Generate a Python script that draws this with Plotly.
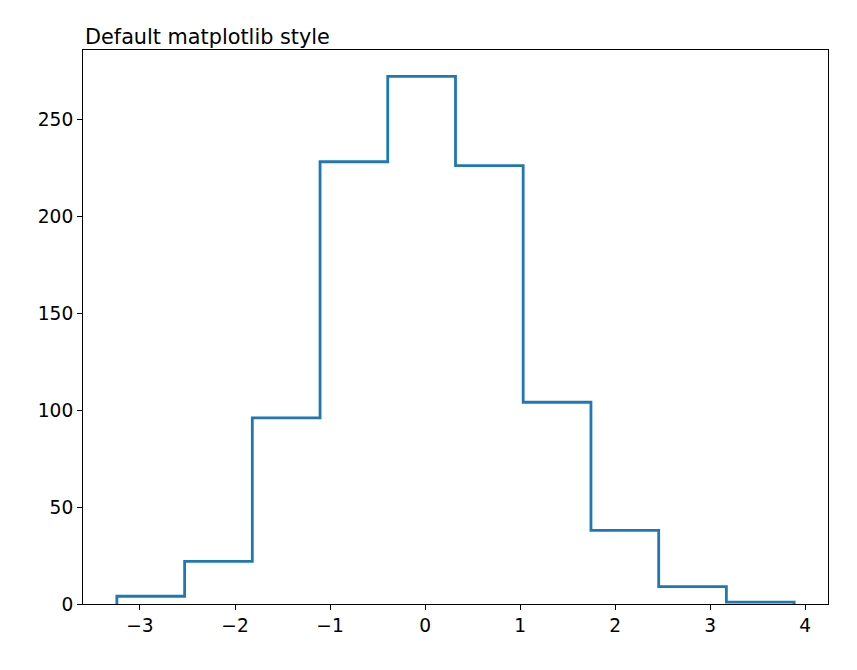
import plotly.graph_objects as go

# Histogram bin edges and counts
bin_edges = [-3.243, -2.530, -1.818, -1.105, -0.393, 0.320,
             1.032, 1.745, 2.458, 3.170, 3.883]
counts = [4, 22, 96, 228, 272, 226, 104, 38, 9, 1]

x_ticks = [-3, -2, -1, 0, 1, 2, 3, 4]
y_ticks = [0, 50, 100, 150, 200, 250]

# Build step outline (like histtype='step')
xs = [bin_edges[0]] + bin_edges[:-1] + [bin_edges[-1], bin_edges[-1]]
ys = [0] + counts + [counts[-1], 0]

fig = go.Figure()
fig.add_trace(
    go.Scatter(x=xs, y=ys, mode='lines',
               line=dict(color='#1f77b4', width=2.8, shape='hv'),
               showlegend=False, hoverinfo='skip')
)

tick_font = dict(family='DejaVu Sans', size=18.6, color='black')
title_font = dict(family='DejaVu Sans', size=20.8, color='black')

fig.add_annotation(
    x=0, y=1, xref='paper', yref='paper',
    xanchor='left', yanchor='bottom', yshift=-1,
    text='Default matplotlib style', showarrow=False,
    font=title_font
)

span = bin_edges[-1] - bin_edges[0]
# page body adds 8px margin, so margins are shifted to compensate
fig.update_layout(
    width=857, height=670,
    margin=dict(l=75, r=37, t=42, b=74),
    plot_bgcolor='white', paper_bgcolor='white',
    font=tick_font,
)

axis_style = dict(
    showgrid=False, zeroline=False,
    showline=True, linecolor='black', linewidth=1.1, mirror=True,
    ticks='outside', ticklen=5, tickwidth=1.1, tickcolor='black',
    tickfont=tick_font,
)
fig.update_xaxes(range=[bin_edges[0] - 0.05 * span, bin_edges[-1] + 0.05 * span],
                 tickvals=x_ticks, **axis_style)
fig.update_yaxes(range=[0, max(counts) * 1.05], tickvals=y_ticks, **axis_style)

fig.write_html('out.html')
